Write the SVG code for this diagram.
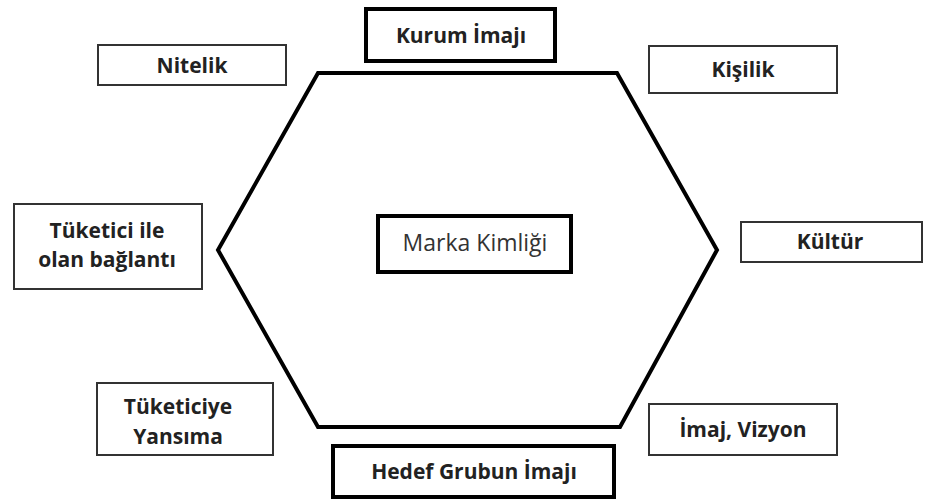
<svg xmlns="http://www.w3.org/2000/svg" width="927" height="502" viewBox="0 0 927 502">
<style>
.box{fill:#fff;stroke:#333;stroke-width:2}
.thick{fill:#fff;stroke:#000;stroke-width:4}
.t{font-family:"Open Sans","Liberation Sans",sans-serif;font-weight:bold;font-size:21px;fill:#222;text-anchor:middle}
.m{font-family:"Open Sans","Liberation Sans",sans-serif;font-size:23px;fill:#333;text-anchor:middle}
</style>
<rect width="927" height="502" fill="#fff"/>
<g id="connectors">
<polygon points="318,73 617,73 717,250 620,427 318,427 218,250" fill="none" stroke="#000" stroke-width="4" stroke-linejoin="miter"/>
</g>
<g id="kurum"><rect class="thick" x="366" y="9" width="189" height="52"/><text class="t" x="461" y="43">Kurum İmajı</text></g>
<g id="nitelik"><rect class="box" x="98" y="45" width="188" height="40"/><text class="t" x="192" y="73">Nitelik</text></g>
<g id="kisilik"><rect class="box" x="649" y="46" width="188" height="47"/><text class="t" x="743" y="77">Kişilik</text></g>
<g id="tuketici"><rect class="box" x="14" y="204" width="188" height="85"/><text class="t" x="107" y="238">Tüketici ile</text><text class="t" x="107" y="267">olan bağlantı</text></g>
<g id="marka"><rect class="thick" x="378" y="216" width="193" height="56"/><text class="m" x="475" y="251">Marka Kimliği</text></g>
<g id="kultur"><rect class="box" x="741" y="222" width="181" height="40"/><text class="t" x="830" y="249">Kültür</text></g>
<g id="yansima"><rect class="box" x="97" y="383" width="176" height="72"/><text class="t" x="178" y="414">Tüketiciye</text><text class="t" x="178" y="444">Yansıma</text></g>
<g id="hedef"><rect class="thick" x="333" y="446" width="281" height="51"/><text class="t" x="474" y="479">Hedef Grubun İmajı</text></g>
<g id="vizyon"><rect class="box" x="649" y="404" width="188" height="51"/><text class="t" x="743" y="437">İmaj, Vizyon</text></g>
</svg>
